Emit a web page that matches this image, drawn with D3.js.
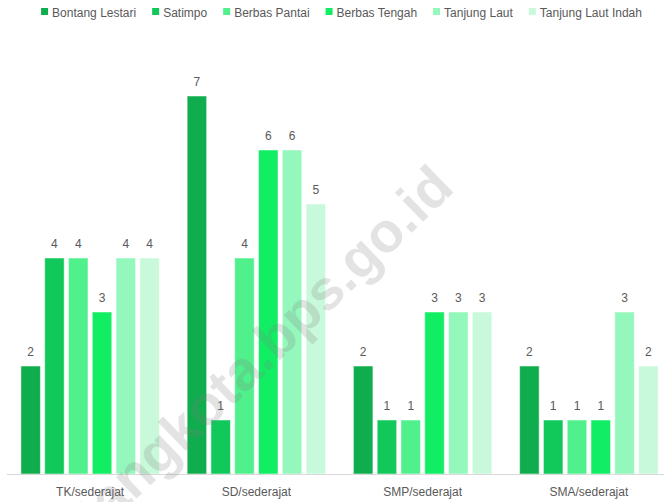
<!DOCTYPE html>
<html>
<head>
<meta charset="utf-8">
<script src="https://cdn.jsdelivr.net/npm/d3@7.9.0/dist/d3.min.js"></script>
<style>
  body { margin: 0; background: #fff; }
  svg { display: block; font-family: "Liberation Sans", Arial, sans-serif; }
</style>
</head>
<body>
<svg id="chart" width="664" height="502"></svg>
<script>
// data
const categories = ["TK/sederajat", "SD/sederajat", "SMP/sederajat", "SMA/sederajat"];
const series = ["Bontang Lestari", "Satimpo", "Berbas Pantai", "Berbas Tengah", "Tanjung Laut", "Tanjung Laut Indah"];
const bontangLestari = [2, 7, 2, 2];
const satimpo = [4, 1, 1, 1];
const berbasPantai = [4, 4, 1, 1];
const berbasTengah = [3, 6, 3, 1];
const tanjungLaut = [4, 6, 3, 3];
const tanjungLautIndah = [4, 5, 3, 2];
const colors = ["#0fad4d", "#11c95b", "#50f08c", "#12ee64", "#94f7bb", "#c8f9da"];

const values = [bontangLestari, satimpo, berbasPantai, berbasTengah, tanjungLaut, tanjungLautIndah];

const svg = d3.select("#chart");
const baseY = 474;

// plot area is wider than the picture, the right edge got cropped
const x = d3.scaleBand().domain(categories).range([7, 672]);
const xSub = d3.scaleBand().domain(series).range([13.9, x.bandwidth() - 13.9]).paddingInner(0.18);
const y = d3.scaleLinear().domain([0, 8]).range([baseY, baseY - 8 * 54]);
const color = d3.scaleOrdinal().domain(series).range(colors);

// bars
const groups = svg.selectAll("g.cat")
  .data(categories)
  .join("g")
  .attr("class", "cat")
  .attr("transform", d => `translate(${x(d)},0)`);

groups.each(function (cat, ci) {
  const g = d3.select(this);
  const rows = series.map((s, si) => ({ s, v: values[si][ci] }));
  g.selectAll("rect")
    .data(rows)
    .join("rect")
    .attr("x", d => xSub(d.s))
    .attr("y", d => y(d.v))
    .attr("width", xSub.bandwidth())
    .attr("height", d => baseY - y(d.v))
    .attr("fill", d => color(d.s))
    .attr("stroke", "#fff")
    .attr("stroke-opacity", 0.5)
    .attr("stroke-width", 1);
  g.selectAll("text.val")
    .data(rows)
    .join("text")
    .attr("class", "val")
    .attr("x", d => xSub(d.s) + xSub.bandwidth() / 2)
    .attr("y", d => y(d.v) - 10.5)
    .attr("text-anchor", "middle")
    .attr("font-size", 12)
    .attr("fill", "#595959")
    .text(d => d.v);
});

// x axis
const xAxis = svg.append("g").attr("transform", `translate(0,${baseY})`)
  .call(d3.axisBottom(x).tickSize(0).tickPadding(13));
xAxis.select(".domain").attr("stroke", "#d9d9d9").attr("d", "M7,0.5H672");
xAxis.selectAll("text").attr("font-size", 12).attr("fill", "#595959")
  .attr("font-family", "Liberation Sans, Arial, sans-serif");

// legend
const legend = svg.append("g").attr("class", "legend");
let lx = 0;
series.forEach((s, i) => {
  const item = legend.append("g").attr("transform", `translate(${lx},0)`);
  item.append("rect").attr("x", 0).attr("y", 8).attr("width", 7).attr("height", 7).attr("fill", colors[i]);
  const t = item.append("text").attr("x", 11).attr("y", 16.5).attr("font-size", 12)
    .attr("fill", "#595959").text(s);
  lx += 11 + t.node().getComputedTextLength() + 16;
});
lx -= 16;
legend.attr("transform", `translate(${341.5 - lx / 2},0)`);

// watermark
svg.append("text")
  .attr("transform", "translate(456,190) rotate(-44)")
  .attr("text-anchor", "end")
  .attr("font-size", 56)
  .attr("font-weight", "bold")
  .attr("fill", "#808080")
  .attr("fill-opacity", 0.22)
  .text("bontangkota.bps.go.id");
</script>
</body>
</html>
